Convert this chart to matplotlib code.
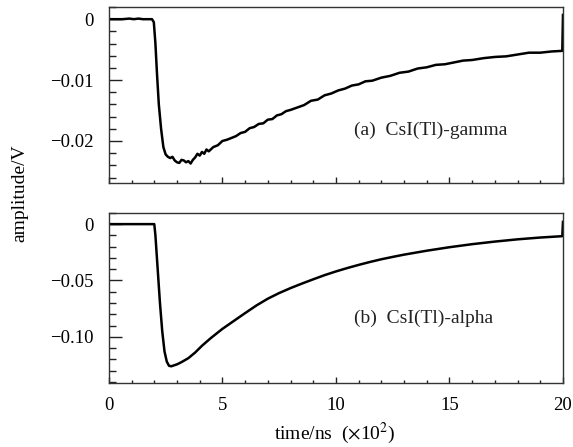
import numpy as np
import matplotlib
matplotlib.use("Agg")
import matplotlib.pyplot as plt
from matplotlib.ticker import MultipleLocator, FixedLocator, FixedFormatter

plt.rcParams['font.family'] = ['Liberation Serif', 'DejaVu Serif']
plt.rcParams['mathtext.fontset'] = 'stix'

# time in units of 100 ns, amplitude in V
t_gamma = [0.0, 0.3, 0.6, 0.9, 1.1, 1.3, 1.5, 1.7, 1.9, 1.98, 2.05, 2.12, 2.2, 2.3, 2.4,
           2.5, 2.6, 2.7, 2.8, 2.9, 3.0, 3.1, 3.2, 3.3, 3.4, 3.5, 3.6, 3.7, 3.8, 3.9,
           4.0, 4.1, 4.2, 4.3, 4.4, 4.6, 4.8, 5.0, 5.2, 5.4, 5.6, 5.8, 6.0, 6.2, 6.4,
           6.6, 6.8, 7.0, 7.2, 7.4, 7.6, 7.8, 8.0, 8.3, 8.6, 8.9, 9.2, 9.5, 9.8, 10.1,
           10.4, 10.7, 11.0, 11.3, 11.6, 12.0, 12.4, 12.8, 13.2, 13.6, 14.0, 14.4, 14.8,
           15.2, 15.6, 16.0, 16.5, 17.0, 17.5, 18.0, 18.5, 19.0, 19.5, 19.97, 20.0]
a_gamma = [0.0000, 0.0000, 0.0000, 0.0001, 0.0000, 0.0001, 0.0000, 0.0000, 0.0000,
           -0.0005, -0.0040, -0.0090, -0.0140, -0.0180, -0.0210,
           -0.0222, -0.0226, -0.0228, -0.0226, -0.0232, -0.0235, -0.0236, -0.0231,
           -0.0232, -0.0235, -0.0233, -0.0237, -0.0231, -0.0227, -0.0221,
           -0.0224, -0.0218, -0.0221, -0.0214, -0.0217, -0.0210, -0.0207, -0.0200,
           -0.0198, -0.0195, -0.0192, -0.0187, -0.0185, -0.0179, -0.0177,
           -0.0172, -0.0171, -0.0165, -0.0164, -0.0158, -0.0156, -0.0151, -0.0149,
           -0.0145, -0.0141, -0.0134, -0.0132, -0.0125, -0.0122, -0.0117,
           -0.0114, -0.0109, -0.0107, -0.0102, -0.0101, -0.0096, -0.0093, -0.0088,
           -0.0086, -0.0081, -0.0079, -0.0075, -0.0074,
           -0.0071, -0.0068, -0.0067, -0.0064, -0.0062, -0.0061, -0.0058, -0.0055,
           -0.0055, -0.0053, -0.0052, 0.0007]

t_alpha = [0.0, 0.5, 1.0, 1.5, 2.0, 2.05, 2.15, 2.25, 2.35, 2.45, 2.55, 2.65, 2.75,
           2.85, 3.0, 3.2, 3.5, 3.8, 4.1, 4.5, 5.0, 5.5, 6.0, 6.5, 7.0, 7.5, 8.0,
           8.5, 9.0, 9.5, 10.0, 10.5, 11.0, 11.5, 12.0, 12.5, 13.0, 14.0, 15.0, 16.0,
           17.0, 17.5, 18.0, 19.0, 19.97, 20.0]
a_alpha = [0.0, 0.0, 0.0, 0.0, 0.0, -0.010, -0.040, -0.070, -0.095, -0.113, -0.122,
           -0.1258, -0.1262, -0.1255, -0.1245, -0.1225, -0.119, -0.114, -0.108,
           -0.101, -0.093, -0.086, -0.079, -0.0722, -0.0662, -0.0612, -0.0568,
           -0.0528, -0.0490, -0.0453, -0.0420, -0.0390, -0.0362, -0.0336, -0.0312,
           -0.0291, -0.0271, -0.0236, -0.0205, -0.0178, -0.0155, -0.0145, -0.0135,
           -0.0119, -0.0107, 0.002]

x_ticks = [0, 5, 10, 15, 20]
x_labels = ['0', '5', '10', '15', '20']
ya_ticks = [0, -0.01, -0.02]
ya_labels = ['0', '\u22120.01', '\u22120.02']
yb_ticks = [0, -0.05, -0.10]
yb_labels = ['0', '\u22120.05', '\u22120.10']

fig = plt.figure(figsize=(5.73, 4.47), dpi=100)
ax1 = fig.add_axes([0.190, 0.5906, 0.7925, 0.3937])
ax2 = fig.add_axes([0.190, 0.1438, 0.7925, 0.3800])

def style(ax, yt, yl, ystep):
    ax.set_xlim(0, 20)
    ax.xaxis.set_major_locator(FixedLocator(x_ticks))
    ax.xaxis.set_minor_locator(MultipleLocator(1))
    ax.yaxis.set_major_locator(FixedLocator(yt))
    ax.yaxis.set_major_formatter(FixedFormatter(yl))
    ax.yaxis.set_minor_locator(MultipleLocator(ystep))
    ax.tick_params(axis='both', which='both', direction='in', top=False, right=False,
                   labelsize=13.5, width=1, color='#222222')
    ax.tick_params(axis='y', which='major', length=9.5, pad=11)
    ax.tick_params(axis='y', which='minor', length=5)
    ax.tick_params(axis='x', which='major', length=4.5, pad=10)
    ax.tick_params(axis='x', which='minor', length=2.5)
    for s in ax.spines.values():
        s.set_linewidth(1.0)
        s.set_color('#333333')

ax1.plot(t_gamma, a_gamma, color='black', lw=1.8)
ax1.set_ylim(-0.0269, 0.002)
style(ax1, ya_ticks, ya_labels, 0.002)
ax1.set_xticklabels([])
ax1.text(0.54, 0.30, '(a)  CsI(Tl)-gamma', transform=ax1.transAxes, fontsize=14,
         color='#222222', va='center', ha='left')

ax2.plot(t_alpha, a_alpha, color='black', lw=1.8)
ax2.set_ylim(-0.1408, 0.010)
style(ax2, yb_ticks, yb_labels, 0.01)
ax2.set_xticklabels(x_labels)
ax2.text(0.54, 0.38, '(b)  CsI(Tl)-alpha', transform=ax2.transAxes, fontsize=14,
         color='#222222', va='center', ha='left')

fig.text(0.035, 0.567, 'amplitude/V', rotation=90, fontsize=14, ha='center', va='center')
fig.text(0.585, 0.03, 'time/ns  ($\\times$10$^{2}$)', fontsize=14, ha='center', va='center')

fig.savefig('out.png', dpi=100)
